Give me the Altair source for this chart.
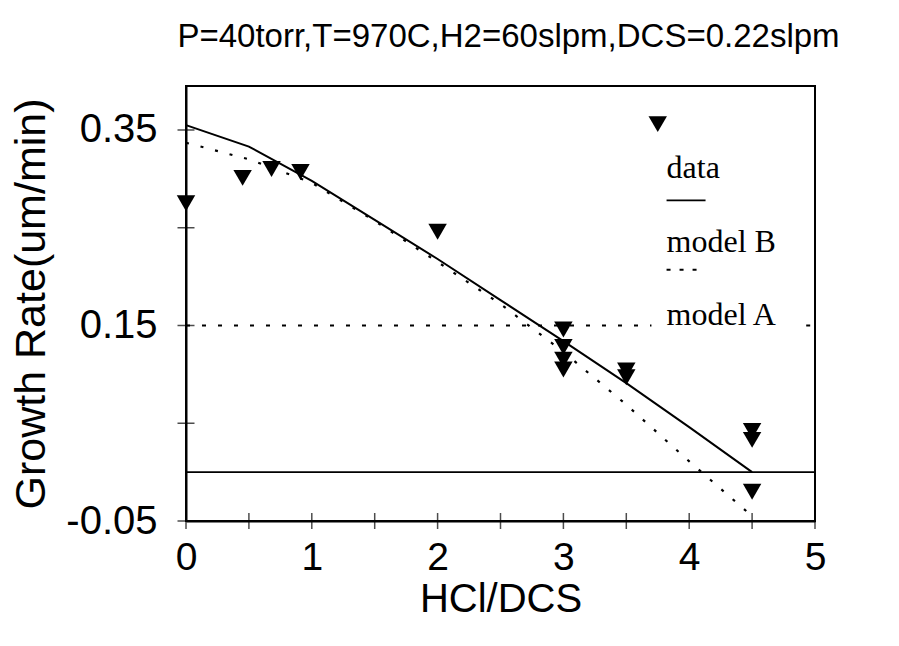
import altair as alt
import pandas as pd

# ---- data ----
data_x = [0.0, 0.45, 0.68, 0.91, 2.0, 3.0, 3.0, 3.0, 3.0, 3.5, 3.5, 4.5, 4.5, 4.5]
data_y = [0.275, 0.301, 0.310, 0.307, 0.246, 0.146, 0.128, 0.115, 0.105, 0.104, 0.097, 0.042, 0.033, -0.020]

model_x = [0.0, 0.5, 1.0, 1.5, 2.0, 2.5, 3.0, 3.5, 4.0, 4.5]
model_b = [0.355, 0.333, 0.298, 0.258, 0.218, 0.176, 0.134, 0.091, 0.046, 0.0]
model_a = [0.337, 0.320, 0.296, 0.257, 0.215, 0.172, 0.123, 0.069, 0.011, -0.045]

x_tick_values = [0, 0.5, 1, 1.5, 2, 2.5, 3, 3.5, 4, 4.5, 5]
x_label_values = [0, 1, 2, 3, 4, 5]
y_tick_values = [-0.05, 0.05, 0.15, 0.25, 0.35]
y_label_values = [-0.05, 0.15, 0.35]

zero_line = [0.0]
ref_line_y = [0.15, 0.15]
ref_line_x1 = [0.0, 4.93]
ref_line_x2 = [3.70, 5.0]

# in-plot legend (data coordinates)
legend_marker_x = [3.75]
legend_marker_y = [0.356]
legend_text = ["data", "model B", "model A"]
legend_text_x = [3.82, 3.82, 3.82]
legend_text_y = [0.311, 0.235, 0.161]
legend_seg_x1 = [3.82, 3.82]
legend_seg_x2 = [4.13, 4.10]
legend_seg_y = [0.278, 0.207]
legend_seg_kind = ["model B", "model A"]

X_DOMAIN = [0, 5]
Y_DOMAIN = [-0.05, 0.395]

SANS = "Liberation Sans"
SERIF = "Liberation Serif"

xs = alt.Scale(domain=X_DOMAIN, nice=False, zero=False)
ys = alt.Scale(domain=Y_DOMAIN, nice=False, zero=False)

x_axis = alt.Axis(values=x_label_values, format="d", ticks=False, grid=False, labelFlush=False,
                  labelFontSize=39, labelFont=SANS, labelColor="black", labelPadding=17,
                  domainColor="black", domainWidth=2,
                  title="HCl/DCS", titleFont=SANS, titleFontSize=40,
                  titleFontWeight="normal", titleColor="black", titlePadding=2)
y_axis = alt.Axis(values=y_label_values, ticks=False, grid=False, labelFlush=False,
                  labelExpr="replace(format(datum.value, '.2f'), '\u2212', '-')",
                  labelFontSize=40, labelFont=SANS, labelColor="black", labelPadding=29,
                  domainColor="black", domainWidth=2,
                  title="Growth Rate(um/min)", titleFont=SANS, titleFontSize=43,
                  titleFontWeight="normal", titleColor="black", titlePadding=12)

df_data = pd.DataFrame({"x": data_x, "y": data_y})
df_model = pd.DataFrame({"x": model_x, "b": model_b, "a": model_a})

base_pts = alt.Chart(df_data).mark_point(shape="triangle-down", filled=True, color="black",
                                         size=340, opacity=1).encode(
    x=alt.X("x:Q", scale=xs, axis=x_axis),
    y=alt.Y("y:Q", scale=ys, axis=y_axis),
)

line_b = alt.Chart(df_model).mark_line(color="black", strokeWidth=2).encode(
    x=alt.X("x:Q", scale=xs), y=alt.Y("b:Q", scale=ys))
line_a = alt.Chart(df_model).mark_line(color="black", strokeWidth=2.2,
                                       strokeDash=[3, 12]).encode(
    x=alt.X("x:Q", scale=xs), y=alt.Y("a:Q", scale=ys))

zero = alt.Chart(pd.DataFrame({"y": zero_line})).mark_rule(color="black", strokeWidth=1.6).encode(
    y=alt.Y("y:Q", scale=ys))

ref = alt.Chart(pd.DataFrame({"x": ref_line_x1, "x2": ref_line_x2, "y": ref_line_y})).mark_rule(
    color="black", strokeWidth=2, strokeDash=[4, 12]).encode(
    x=alt.X("x:Q", scale=xs), x2="x2:Q", y=alt.Y("y:Q", scale=ys))

yt = alt.Chart(pd.DataFrame({"y": y_tick_values, "x": [X_DOMAIN[0]] * len(y_tick_values)})).mark_tick(
    orient="horizontal", color="black", size=17, thickness=1.5).encode(
    x=alt.X("x:Q", scale=xs), y=alt.Y("y:Q", scale=ys))
xt = alt.Chart(pd.DataFrame({"x": x_tick_values, "y": [Y_DOMAIN[0]] * len(x_tick_values)})).mark_tick(
    orient="vertical", color="black", size=16, thickness=1.5).encode(
    x=alt.X("x:Q", scale=xs), y=alt.Y("y:Q", scale=ys))

leg_pt = alt.Chart(pd.DataFrame({"x": legend_marker_x, "y": legend_marker_y})).mark_point(
    shape="triangle-down", filled=True, color="black", size=340, opacity=1).encode(
    x=alt.X("x:Q", scale=xs), y=alt.Y("y:Q", scale=ys))
leg_txt = alt.Chart(pd.DataFrame({"x": legend_text_x, "y": legend_text_y, "t": legend_text})).mark_text(
    align="left", baseline="middle", font=SERIF, fontSize=32, color="black").encode(
    x=alt.X("x:Q", scale=xs), y=alt.Y("y:Q", scale=ys), text="t:N")
df_seg = pd.DataFrame({"x": legend_seg_x1, "x2": legend_seg_x2, "y": legend_seg_y, "k": legend_seg_kind})
leg_solid = alt.Chart(df_seg[df_seg.k == "model B"]).mark_rule(color="black", strokeWidth=1.6).encode(
    x=alt.X("x:Q", scale=xs), x2="x2:Q", y=alt.Y("y:Q", scale=ys))
leg_dot = alt.Chart(df_seg[df_seg.k == "model A"]).mark_rule(color="black", strokeWidth=2,
                                                             strokeDash=[4, 9]).encode(
    x=alt.X("x:Q", scale=xs), x2="x2:Q", y=alt.Y("y:Q", scale=ys))

chart = alt.layer(zero, ref, line_b, line_a, base_pts, yt, xt,
                  leg_pt, leg_txt, leg_solid, leg_dot).properties(
    width=629, height=435,
    autosize=alt.AutoSizeParams(type="none"),
    padding={"left": 186, "top": 86, "right": 84, "bottom": 125},
    title=alt.TitleParams("P=40torr,T=970C,H2=60slpm,DCS=0.22slpm",
                          font=SANS, fontSize=33, fontWeight="normal",
                          color="black", anchor="middle", offset=32, dx=8),
    background="white",
).configure_view(stroke="black", strokeWidth=2)

chart.save("out.html", embed_options={"renderer": "svg", "actions": False})
